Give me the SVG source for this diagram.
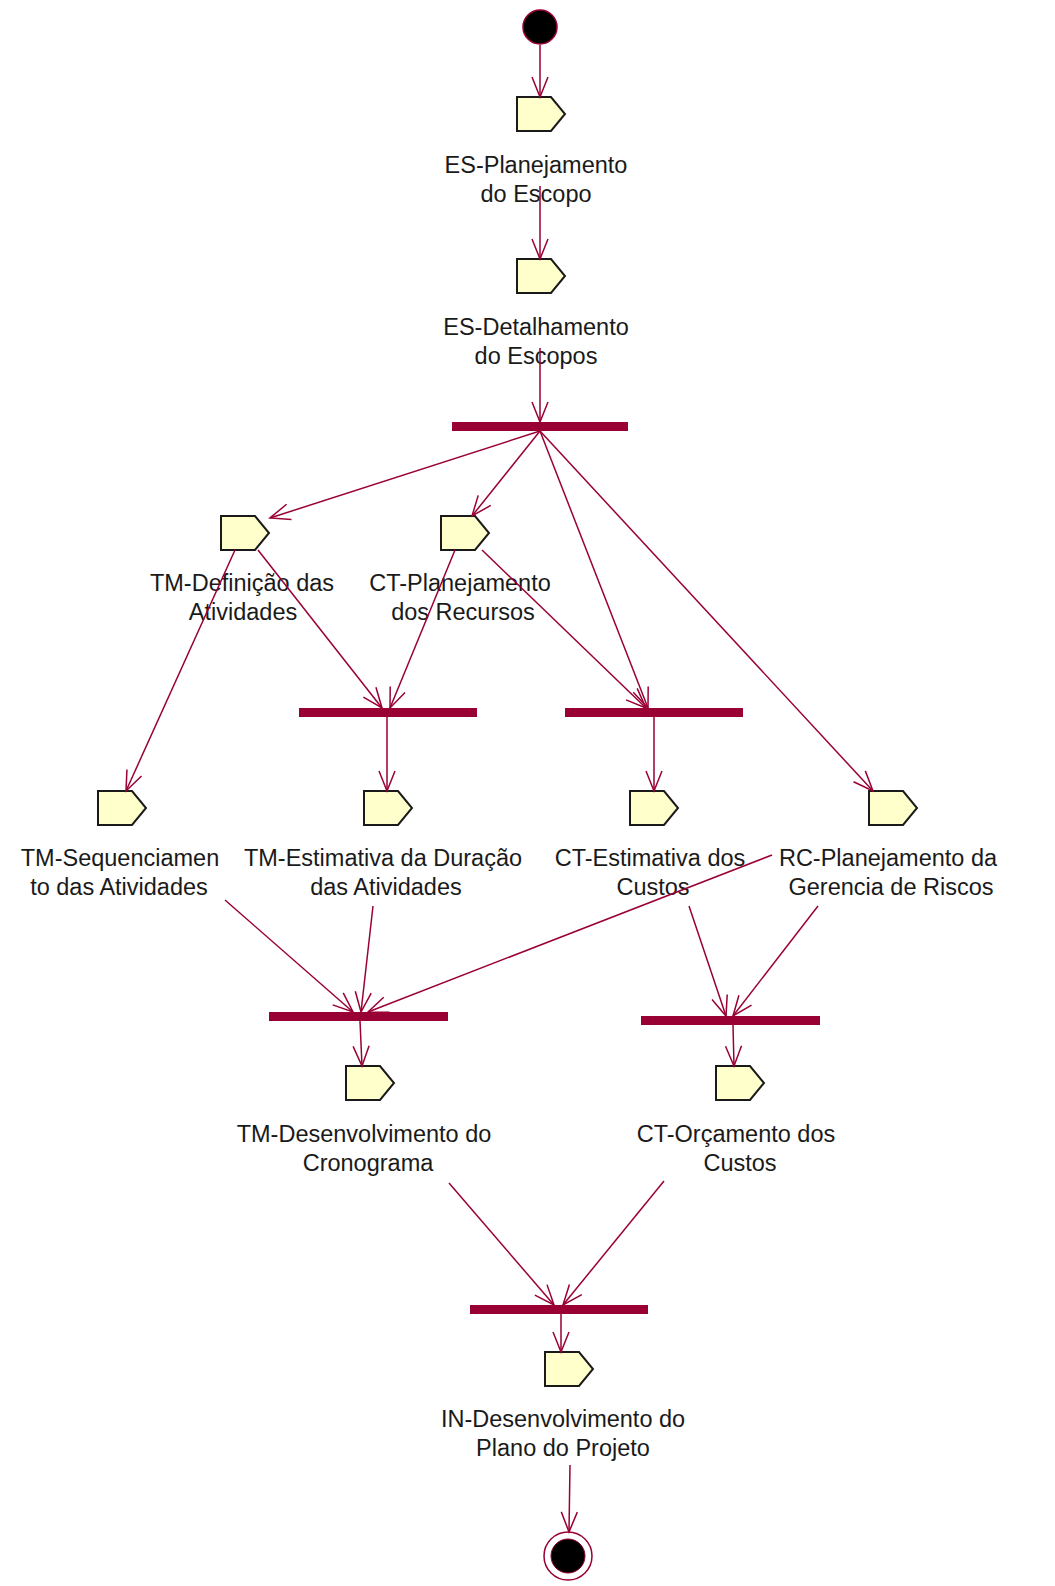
<svg xmlns="http://www.w3.org/2000/svg" width="1055" height="1586" viewBox="0 0 1055 1586">
<defs>
<style>
.act{fill:#ffffcc;stroke:#1a1a1a;stroke-width:2}
.bar{fill:#990033}
.lbl{font-family:"Liberation Sans",Arial,sans-serif;font-size:23.5px;fill:#1a1a1a;text-anchor:middle}
.con line{stroke:#990033;stroke-width:1.5;fill:none;marker-end:url(#arr)}
</style>
<marker id="arr" viewBox="-22 -10 24 20" refX="0" refY="0" markerWidth="24" markerHeight="20" markerUnits="userSpaceOnUse" orient="auto">
<path d="M-20,-8 L0,0 L-20,8" fill="none" stroke="#990033" stroke-width="1.5"/>
</marker>
</defs>
<rect width="1055" height="1586" fill="#ffffff"/>

<g id="start"><circle cx="540" cy="27" r="17" fill="#000" stroke="#990033" stroke-width="1.5"/></g>

<g id="a1"><path class="act" d="M517,97 h34 l14,17 l-14,17 h-34 z"/>
<text class="lbl"><tspan x="536" y="173">ES-Planejamento</tspan><tspan x="536" y="202">do Escopo</tspan></text></g>

<g id="a2"><path class="act" d="M517,259 h34 l14,17 l-14,17 h-34 z"/>
<text class="lbl"><tspan x="536" y="335">ES-Detalhamento</tspan><tspan x="536" y="364">do Escopos</tspan></text></g>

<g id="bar1"><rect class="bar" x="452" y="422" width="176" height="9"/></g>

<g id="a3"><path class="act" d="M221,516 h34 l14,17 l-14,17 h-34 z"/>
<text class="lbl"><tspan x="242" y="591">TM-Definição das</tspan><tspan x="243" y="620">Atividades</tspan></text></g>

<g id="a4"><path class="act" d="M441,516 h34 l14,17 l-14,17 h-34 z"/>
<text class="lbl"><tspan x="460" y="591">CT-Planejamento</tspan><tspan x="463" y="620">dos Recursos</tspan></text></g>

<g id="bar2"><rect class="bar" x="299" y="708" width="178" height="9"/></g>
<g id="bar3"><rect class="bar" x="565" y="708" width="178" height="9"/></g>

<g id="a5"><path class="act" d="M98,791 h34 l14,17 l-14,17 h-34 z"/>
<text class="lbl"><tspan x="120" y="866">TM-Sequenciamen</tspan><tspan x="119" y="895">to das Atividades</tspan></text></g>

<g id="a6"><path class="act" d="M364,791 h34 l14,17 l-14,17 h-34 z"/>
<text class="lbl"><tspan x="383" y="866">TM-Estimativa da Duração</tspan><tspan x="386" y="895">das Atividades</tspan></text></g>

<g id="a7"><path class="act" d="M630,791 h34 l14,17 l-14,17 h-34 z"/>
<text class="lbl"><tspan x="650" y="866">CT-Estimativa dos</tspan><tspan x="653" y="895">Custos</tspan></text></g>

<g id="a8"><path class="act" d="M869,791 h34 l14,17 l-14,17 h-34 z"/>
<text class="lbl"><tspan x="888" y="866">RC-Planejamento da</tspan><tspan x="891" y="895">Gerencia de Riscos</tspan></text></g>

<g id="bar4"><rect class="bar" x="269" y="1012" width="179" height="9"/></g>
<g id="bar5"><rect class="bar" x="641" y="1016" width="179" height="9"/></g>

<g id="a9"><path class="act" d="M346,1066 h34 l14,17 l-14,17 h-34 z"/>
<text class="lbl"><tspan x="364" y="1142">TM-Desenvolvimento do</tspan><tspan x="368" y="1171">Cronograma</tspan></text></g>

<g id="a10"><path class="act" d="M716,1066 h34 l14,17 l-14,17 h-34 z"/>
<text class="lbl"><tspan x="736" y="1142">CT-Orçamento dos</tspan><tspan x="740" y="1171">Custos</tspan></text></g>

<g id="bar6"><rect class="bar" x="470" y="1305" width="178" height="9"/></g>

<g id="a11"><path class="act" d="M545,1352 h34 l14,17 l-14,17 h-34 z"/>
<text class="lbl"><tspan x="563" y="1427">IN-Desenvolvimento do</tspan><tspan x="563" y="1456">Plano do Projeto</tspan></text></g>

<g id="end"><circle cx="568" cy="1556" r="24" fill="#fff" stroke="#990033" stroke-width="1.5"/><circle cx="568" cy="1556" r="17" fill="#000" stroke="#990033" stroke-width="1"/></g>

<g id="connectors" class="con">
<line x1="540" y1="45" x2="540" y2="97"/>
<line x1="540" y1="186" x2="540" y2="259"/>
<line x1="540" y1="348" x2="540" y2="422"/>
<line x1="540" y1="431" x2="270" y2="518"/>
<line x1="540" y1="431" x2="472" y2="516"/>
<line x1="540" y1="431" x2="648" y2="708"/>
<line x1="540" y1="431" x2="873" y2="791"/>
<line x1="235" y1="550" x2="126" y2="791"/>
<line x1="258" y1="550" x2="382" y2="708"/>
<line x1="455" y1="550" x2="390" y2="708"/>
<line x1="482" y1="550" x2="646" y2="708"/>
<line x1="387" y1="717" x2="387" y2="791"/>
<line x1="654" y1="717" x2="654" y2="791"/>
<line x1="225" y1="900" x2="353" y2="1012"/>
<line x1="373" y1="906" x2="361" y2="1012"/>
<line x1="772" y1="855" x2="368" y2="1012"/>
<line x1="689" y1="906" x2="726" y2="1016"/>
<line x1="818" y1="906" x2="733" y2="1016"/>
<line x1="360" y1="1021" x2="362" y2="1066"/>
<line x1="733" y1="1025" x2="734" y2="1066"/>
<line x1="449" y1="1183" x2="554" y2="1305"/>
<line x1="664" y1="1181" x2="563" y2="1305"/>
<line x1="561" y1="1314" x2="561" y2="1352"/>
<line x1="570" y1="1465" x2="569" y2="1532"/>
</g>
</svg>
